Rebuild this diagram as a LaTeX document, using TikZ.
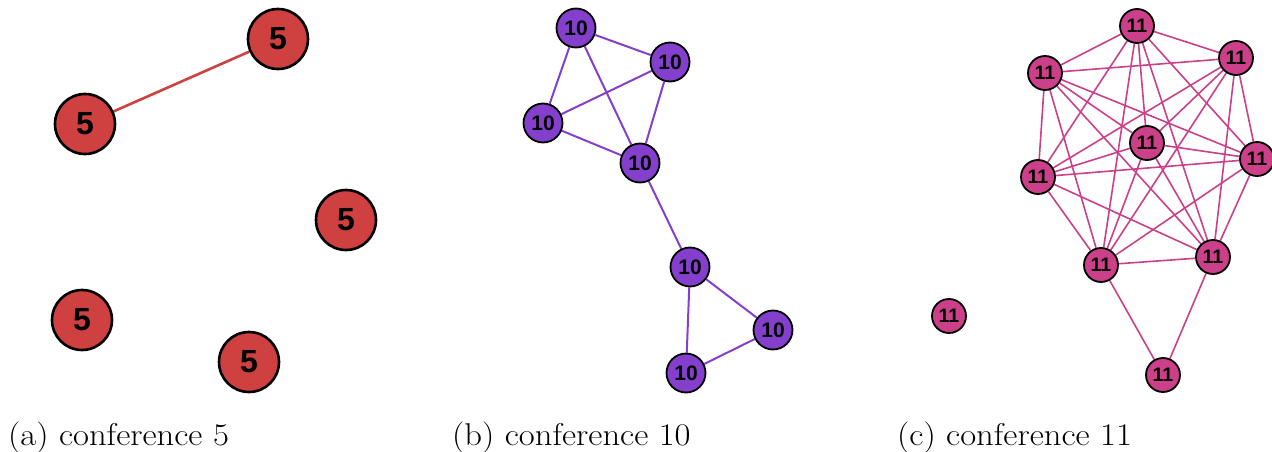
\documentclass[tikz,border=0pt]{standalone}
\usepackage{fontspec}
\usetikzlibrary{backgrounds}
\newfontfamily\lab{Liberation Sans}
\newfontfamily\capfont{Latin Modern Roman}[FakeStretch=1.1]
\definecolor{cA}{RGB}{207,64,64}
\definecolor{cB}{RGB}{132,64,204}
\definecolor{cC}{RGB}{203,64,136}
\tikzset{
  na/.style={circle,draw=black,line width=2.6pt,fill=cA,minimum size=60pt,inner sep=0pt,font=\lab\bfseries\fontsize{32}{32}\selectfont},
  nb/.style={circle,draw=black,line width=1.8pt,fill=cB,minimum size=39pt,inner sep=0pt,font=\lab\bfseries\fontsize{21}{21}\selectfont},
  nc/.style={circle,draw=black,line width=1.8pt,fill=cC,minimum size=34pt,inner sep=0pt,font=\lab\bfseries\fontsize{19.5}{19.5}\selectfont},
  ea/.style={draw=cA,line width=2.6pt},
  eb/.style={draw=cB,line width=2pt},
  ec/.style={draw=cC,line width=1.6pt},
  captxt/.style={anchor=base west,inner sep=0pt,font=\capfont\fontsize{31.5}{34}\selectfont}
}
\begin{document}
\begin{tikzpicture}[x=1pt,y=-1pt]
\useasboundingbox (0,0) rectangle (1272,452);
% (a)
\node[na] (a1) at (278,39) {5};
\node[na] (a2) at (85,124) {5};
\node[na] (a3) at (346,220) {5};
\node[na] (a4) at (82,320) {5};
\node[na] (a5) at (249,362) {5};
% (b)
\node[nb] (b1) at (576,28) {10};
\node[nb] (b2) at (670,62) {10};
\node[nb] (b3) at (543,123) {10};
\node[nb] (b4) at (640,163) {10};
\node[nb] (b5) at (690,267) {10};
\node[nb] (b6) at (773,330) {10};
\node[nb] (b7) at (686,373) {10};
% (c)
\node[nc] (c1) at (1137,26) {11};
\node[nc] (c2) at (1236,58) {11};
\node[nc] (c3) at (1045,73) {11};
\node[nc] (c4) at (1147,143) {11};
\node[nc] (c5) at (1257,159) {11};
\node[nc] (c6) at (1038,177) {11};
\node[nc] (c7) at (1101,265) {11};
\node[nc] (c8) at (1213,257) {11};
\node[nc] (c9) at (1163,375) {11};
\node[nc] (c10) at (949,316) {11};
% edges
\begin{scope}[on background layer]
\draw[ea] (a1) -- (a2);
\foreach \u/\v in {b1/b2,b1/b3,b1/b4,b2/b3,b2/b4,b3/b4,b4/b5,b5/b6,b5/b7,b6/b7}
  \draw[eb] (\u) -- (\v);
\foreach \u/\v in {c1/c2,c1/c3,c1/c4,c1/c5,c1/c6,c1/c7,c1/c8,
  c2/c3,c2/c4,c2/c5,c2/c6,c2/c7,c2/c8,
  c3/c4,c3/c5,c3/c6,c3/c7,c3/c8,
  c4/c5,c4/c6,c4/c7,c4/c8,
  c5/c6,c5/c7,c5/c8,
  c6/c7,c6/c8,c7/c8,c7/c9,c8/c9}
  \draw[ec] (\u) -- (\v);
\end{scope}
% captions
\node[captxt] (ta) at (8,445) {(a) conference 5};
\node[captxt] (tb) at (452,445) {(b) conference 10};
\node[captxt] (tc) at (897,445) {(c) conference 11};
\end{tikzpicture}
\end{document}
